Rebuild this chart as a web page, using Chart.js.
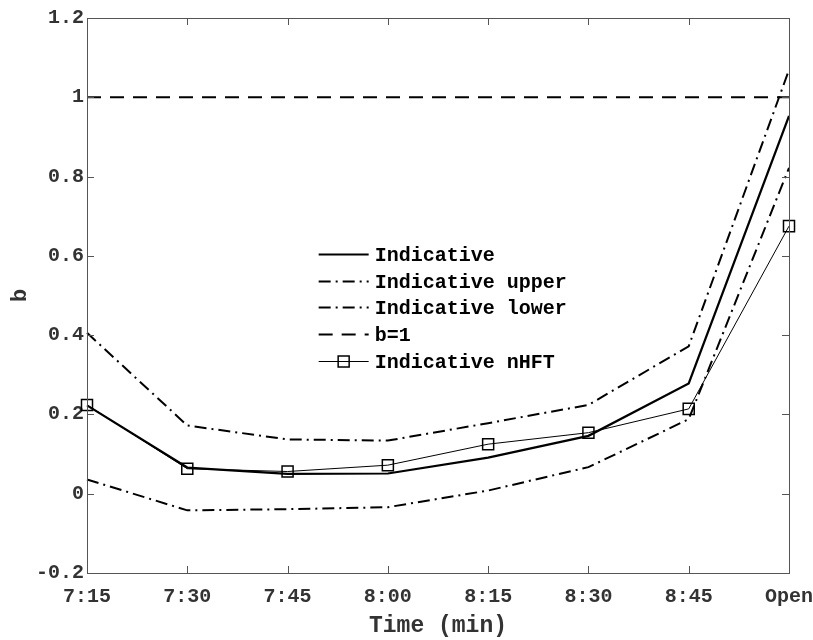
<!DOCTYPE html>
<html>
<head>
<meta charset="utf-8">
<script src="https://cdn.jsdelivr.net/npm/chart.js@4.4.1/dist/chart.umd.min.js"></script>
<style>
  html, body { margin: 0; padding: 0; background: #fff; }
  #wrap { width: 813px; height: 640px; }
</style>
</head>
<body>
<div id="wrap"><canvas id="c" width="813" height="640"></canvas></div>
<script>
// ---- data ----
const categories = ['7:15', '7:30', '7:45', '8:00', '8:15', '8:30', '8:45', 'Open'];
const indicative      = [0.223, 0.066, 0.050, 0.051, 0.091, 0.146, 0.278, 0.953];
const indicativeUpper = [0.406, 0.172, 0.137, 0.134, 0.178, 0.224, 0.372, 1.069];
const indicativeLower = [0.036, -0.042, -0.039, -0.034, 0.008, 0.067, 0.188, 0.822];
const bOne            = [1, 1, 1, 1, 1, 1, 1, 1];
const indicativeNHFT  = [0.224, 0.063, 0.056, 0.072, 0.125, 0.154, 0.214, 0.675];
const yTickValues = [-0.2, 0, 0.2, 0.4, 0.6, 0.8, 1, 1.2];
const yTickLabels = ['-0.2', '0', '0.2', '0.4', '0.6', '0.8', '1', '1.2'];

const FONT = '"Liberation Mono", "Courier New", monospace';
const AXIS_COLOR = '#555';
const TEXT_COLOR = '#333';

const dashDot = [12, 5, 2, 5];

const datasets = [
  { label: 'Indicative', data: indicative, borderColor: '#000', borderWidth: 2.2, pointRadius: 0, tension: 0, order: 1 },
  { label: 'Indicative upper', data: indicativeUpper, borderColor: '#000', borderWidth: 2, borderDash: dashDot, pointRadius: 0, tension: 0, order: 2 },
  { label: 'Indicative lower', data: indicativeLower, borderColor: '#000', borderWidth: 2, borderDash: dashDot, pointRadius: 0, tension: 0, order: 3 },
  { label: 'b=1', data: bOne, borderColor: '#000', borderWidth: 2, borderDash: [14, 9], pointRadius: 0, tension: 0, order: 4 },
  { label: 'Indicative nHFT', data: indicativeNHFT, borderColor: '#000', borderWidth: 1, pointStyle: 'rect', pointRadius: 7.8,
    pointBorderWidth: 1.5, pointBackgroundColor: 'rgba(255,255,255,0)', pointBorderColor: '#000', tension: 0, order: 0 }
];

// inward ticks + frame
const framePlugin = {
  id: 'frame',
  afterDraw(chart) {
    const { ctx, chartArea: a, scales: { x, y } } = chart;
    ctx.save();
    ctx.strokeStyle = AXIS_COLOR;
    ctx.lineWidth = 1;
    ctx.setLineDash([]);
    ctx.strokeRect(a.left + 0.5, a.top + 0.5, a.right - a.left, a.bottom - a.top);
    const L = 7;
    ctx.beginPath();
    yTickValues.forEach(v => {
      const py = Math.round(y.getPixelForValue(v)) + 0.5;
      ctx.moveTo(a.left, py); ctx.lineTo(a.left + L, py);
      ctx.moveTo(a.right, py); ctx.lineTo(a.right - L, py);
    });
    categories.forEach((c, i) => {
      const px = Math.round(x.getPixelForValue(i)) + 0.5;
      ctx.moveTo(px, a.bottom); ctx.lineTo(px, a.bottom - L);
      ctx.moveTo(px, a.top); ctx.lineTo(px, a.top + L);
    });
    ctx.stroke();
    ctx.restore();
  }
};

// legend inside plot
const legendPlugin = {
  id: 'innerLegend',
  afterDatasetsDraw(chart) {
    const { ctx, scales: { x, y } } = chart;
    const x0 = x.getPixelForValue(2.31);
    const x1 = x0 + 50;
    const tx = x1 + 6;
    const yTop = y.getPixelForValue(0.605);
    const rowH = 26.7;
    ctx.save();
    ctx.fillStyle = '#000';
    ctx.font = 'bold 20px ' + FONT;
    ctx.textBaseline = 'middle';
    chart.data.datasets.forEach((ds, i) => {
      const ry = Math.round(yTop + i * rowH) + 0.5;
      ctx.strokeStyle = '#000';
      ctx.lineWidth = ds.borderWidth;
      ctx.setLineDash(ds.borderDash || []);
      ctx.beginPath();
      ctx.moveTo(x0, ry); ctx.lineTo(x1, ry);
      ctx.stroke();
      ctx.setLineDash([]);
      if (ds.pointStyle === 'rect') {
        const s = 11;
        const cx = (x0 + x1) / 2;
        ctx.lineWidth = ds.pointBorderWidth;
        ctx.strokeRect(cx - s / 2, ry - s / 2, s, s);
      }
      ctx.fillText(ds.label, tx, ry + 1);
    });
    ctx.restore();
  }
};

new Chart(document.getElementById('c'), {
  type: 'line',
  data: { labels: categories, datasets },
  options: {
    responsive: false,
    animation: false,
    devicePixelRatio: 1,
    layout: { padding: { top: 18, right: 24, left: 0, bottom: 0 } },
    plugins: { legend: { display: false }, tooltip: { enabled: false } },
    scales: {
      x: {
        type: 'category',
        offset: false,
        grid: { display: true, drawOnChartArea: false, drawTicks: false, offset: false },
        border: { display: false },
        ticks: { color: TEXT_COLOR, font: { family: FONT, size: 20, weight: 'bold' }, padding: 12, maxRotation: 0, autoSkip: false },
        title: { display: true, text: 'Time (min)', color: TEXT_COLOR, font: { family: FONT, size: 23, weight: 'bold' }, padding: { top: 4, bottom: 0 } },
        afterFit(s) { s.height = 67; s.paddingLeft = 0; s.paddingRight = 0; }
      },
      y: {
        min: -0.2, max: 1.2,
        grid: { display: true, drawOnChartArea: false, drawTicks: false },
        border: { display: false },
        afterBuildTicks(s) { s.ticks = yTickValues.map(v => ({ value: v })); },
        ticks: {
          color: TEXT_COLOR, font: { family: FONT, size: 20, weight: 'bold' }, padding: 3,
          callback(v) { const i = yTickValues.findIndex(t => Math.abs(t - v) < 1e-9); return i >= 0 ? yTickLabels[i] : ''; }
        },
        title: { display: true, text: 'b', color: TEXT_COLOR, font: { family: FONT, size: 22, weight: 'bold' }, padding: { top: 7, bottom: 0 } },
        afterFit(s) { s.width = 87; s.paddingTop = 0; s.paddingBottom = 0; }
      }
    }
  },
  plugins: [framePlugin, legendPlugin]
});
</script>
</body>
</html>
